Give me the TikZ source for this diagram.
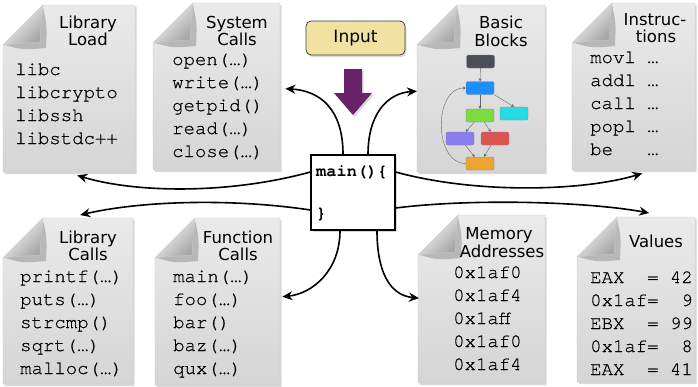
\documentclass[tikz,border=0pt]{standalone}
\usepackage{fontspec}
\setmainfont{DejaVu Sans}
\newfontfamily\codefont[FakeBold=0.6]{TeX Gyre Cursor}
\newfontfamily\mainfont{TeX Gyre Cursor}
\usetikzlibrary{positioning, shadows, arrows.meta}

\definecolor{pagetop}{HTML}{EAEAEA}
\definecolor{pagebottom}{HTML}{D5D5D5}
\definecolor{inputyellow}{HTML}{F1E2A2}
\definecolor{inputpurple}{HTML}{6A2268}
\definecolor{bbgray}{HTML}{4B4E57}
\definecolor{bbblue}{HTML}{1E8EFF}
\definecolor{bbgreen}{HTML}{79DD3F}
\definecolor{bbcyan}{HTML}{22DDE3}
\definecolor{bbpurple}{HTML}{8A7EEE}
\definecolor{bbred}{HTML}{D95453}
\definecolor{bborange}{HTML}{ECA432}

\tikzset{
  pagebody/.style={draw=black!22, line width=.4pt, top color=pagetop, bottom color=pagebottom,
    drop shadow={shadow xshift=1.5pt, shadow yshift=-2pt, opacity=.3}},
  docpage/.style={rectangle, inner sep=0pt, anchor=north west},
  headline/.style={anchor=base, inner sep=0pt, font=\fontsize{16.5}{17}\selectfont},
  codeline/.style={anchor=base west, inner sep=0pt, font=\codefont\fontsize{19}{23}\selectfont},
  maincode/.style={anchor=base west, inner sep=0pt, font=\mainfont\bfseries\fontsize{17}{20}\selectfont},
  mainbox/.style={draw, line width=1.2pt, fill=white, minimum width=84pt, minimum height=75pt,
    drop shadow={shadow xshift=1.5pt, shadow yshift=-2pt, opacity=.3}},
  inputbox/.style={draw=black!75, line width=.8pt, fill=inputyellow, rounded corners=5pt,
    minimum width=99pt, minimum height=34pt, font=\fontsize{17}{20}\selectfont,
    drop shadow={shadow xshift=1.5pt, shadow yshift=-2pt, opacity=.3}},
  flow/.style={-{Stealth[length=10pt,width=9pt]}, line width=1.6pt},
  bblock/.style={rounded corners=2pt, minimum width=28pt, minimum height=13pt,
    draw=black!45, line width=.4pt, inner sep=0pt},
  bbedge/.style={-{Stealth[length=3pt,width=3pt]}, draw=black!60, line width=.4pt},
}

% page with a dog-ear: name, left, top, width, height
\newcommand\docpage[5]{%
  \path[pagebody] (#2,#3+40) -- (#2+40,#3) -- (#2+#4,#3) -- (#2+#4,#3+#5) -- (#2,#3+#5) -- cycle;
  \node[docpage, minimum width=#4pt, minimum height=#5pt] (#1) at (#2,#3) {};
  \fill[black, opacity=.2] (#2+40,#3+2) .. controls (#2+44,#3+20) .. (#2+43,#3+43)
    .. controls (#2+20,#3+45) .. (#2+2,#3+40) -- cycle;
  \shade[top color=white, bottom color=black!35, shading angle=45, draw=black!20, line width=.3pt]
    (#2+40,#3) .. controls (#2+38,#3+20) .. (#2+37,#3+37)
    .. controls (#2+20,#3+38) .. (#2,#3+40) -- cycle;
}
% code lines of a page, first baseline at (#2,#3)
\newcommand\doclines[4]{%
  \foreach \codetext [count=\i] in {#4}
    \node[codeline] (#1-\i) at (#2,{#3+23*(\i-1)}) {\codetext};
}

\begin{document}
\begin{tikzpicture}[x=1pt, y=-1pt]
  \useasboundingbox (0,0) rectangle (698,386);

  % pages
  \docpage{libload}{3}{5}{132}{167}
  \docpage{syscalls}{153}{3}{127}{167}
  \docpage{bblocks}{417}{5}{128}{167}
  \docpage{instr}{572}{3}{123}{167}
  \docpage{libcalls}{3}{218}{130}{166}
  \docpage{funcalls}{155}{218}{125}{167}
  \docpage{memaddr}{418}{215}{127}{168}
  \docpage{values}{577}{217}{118}{165}

  % headings
  \node[headline] (libload-h1) at (88,28) {Library};
  \node[headline] (libload-h2) at (88,45) {Load};
  \node[headline] (syscalls-h1) at (237,28) {System};
  \node[headline] (syscalls-h2) at (237,45) {Calls};
  \node[headline] (bblocks-h1) at (501,28) {Basic};
  \node[headline] (bblocks-h2) at (501,46) {Blocks};
  \node[headline] (instr-h1) at (655,25) {Instruc-};
  \node[headline] (instr-h2) at (656,42) {tions};
  \node[headline] (libcalls-h1) at (88,243) {Library};
  \node[headline] (libcalls-h2) at (88,260) {Calls};
  \node[headline] (funcalls-h1) at (238,243) {Function};
  \node[headline] (funcalls-h2) at (238,260) {Calls};
  \node[headline] (memaddr-h1) at (499,239) {Memory};
  \node[headline] (memaddr-h2) at (502,257) {Addresses};
  \node[headline] (values-h1) at (656,247) {Values};

  % contents
  \doclines{libload}{15}{75}{libc, libcrypto, libssh, libstdc++}
  \doclines{syscalls}{172}{65}{open(…), write(…), getpid(), read(…), close(…)}
  \doclines{instr}{590}{63}{movl …, addl …, call …, popl …, be\ \ \ …}
  \doclines{libcalls}{20}{282}{printf(…), puts(…), strcmp(), sqrt(…), malloc(…)}
  \doclines{funcalls}{173}{282}{main(…), foo(…), bar(), baz(…), qux(…)}
  \doclines{memaddr}{453}{278}{0x1af0, 0x1af4, 0x1aff, 0x1af0, 0x1af4}
  \doclines{values}{590}{283}{EAX\ \ =\ 42, 0x1af=\ \ 9, EBX\ \ =\ 99, 0x1af=\ \ 8, EAX\ \ =\ 41}

  % basic block graph
  \node[bblock, fill=bbgray] (bb-entry) at (480.5,61.5) {};
  \node[bblock, fill=bbblue] (bb-head) at (480,88) {};
  \node[bblock, fill=bbgreen] (bb-body) at (480,115.5) {};
  \node[bblock, fill=bbcyan] (bb-exit) at (514,113.5) {};
  \node[bblock, fill=bbpurple] (bb-then) at (460,138.5) {};
  \node[bblock, fill=bbred] (bb-else) at (495,138.5) {};
  \node[bblock, fill=bborange] (bb-join) at (480,163.5) {};
  \draw[bbedge] (bb-entry) -- (bb-head);
  \draw[bbedge] (bb-head) -- (bb-body);
  \draw[bbedge] (bb-head.south east) -- (bb-exit.north);
  \draw[bbedge] (bb-body) -- (bb-then);
  \draw[bbedge] (bb-body) -- (bb-else);
  \draw[bbedge] (bb-then) -- (bb-join);
  \draw[bbedge] (bb-else) -- (bb-join);
  \draw[bbedge] (bb-join.west) to[out=180, in=180, looseness=1.1] (bb-head.west);

  % input
  \node[inputbox] (input) at (355.5,38) {Input};
  \fill[inputpurple, drop shadow={shadow xshift=1.5pt, shadow yshift=-2pt, opacity=.3}]
    (344,69) -- (362,69) -- (362,93) -- (372,93) -- (353,115) -- (334,93) -- (344,93) -- cycle;

  % main
  \node[mainbox] (main) at (353,192.5) {};
  \node[maincode] (main-open) at (316,176) {main()\{};
  \node[maincode] (main-close) at (316,218) {\}};

  \draw[flow] ([xshift=-10pt]main.north) .. controls +(0,-45) and +(35,2) .. ([shift={(5,2)}]syscalls.east);
  \draw[flow] ([xshift=15pt]main.north) .. controls +(0,-40) and +(-30,2) .. ([yshift=-2.5pt]bblocks.west);
  \draw[flow] ([yshift=20.5pt]main.west) .. controls +(-80,22) and +(60,18) .. ([shift={(8,3)}]libload.south);
  \draw[flow] ([yshift=-17.5pt]main.west) .. controls +(-80,-12) and +(60,-14) .. ([shift={(12,-3)}]libcalls.north);
  \draw[flow] ([yshift=20.5pt]main.east) .. controls +(80,22) and +(-60,18) .. ([shift={(8.5,3)}]instr.south);
  \draw[flow] ([yshift=-15.5pt]main.east) .. controls +(80,-10) and +(-60,-11) .. ([shift={(13,-4)}]values.north);
  \draw[flow] ([xshift=-13pt]main.south) .. controls +(0,40) and +(30,-3) .. ([shift={(2,-5)}]funcalls.east);
  \draw[flow] ([xshift=24pt]main.south) .. controls +(0,40) and +(-30,-3) .. ([shift={(1,-1)}]memaddr.west);
\end{tikzpicture}
\end{document}
